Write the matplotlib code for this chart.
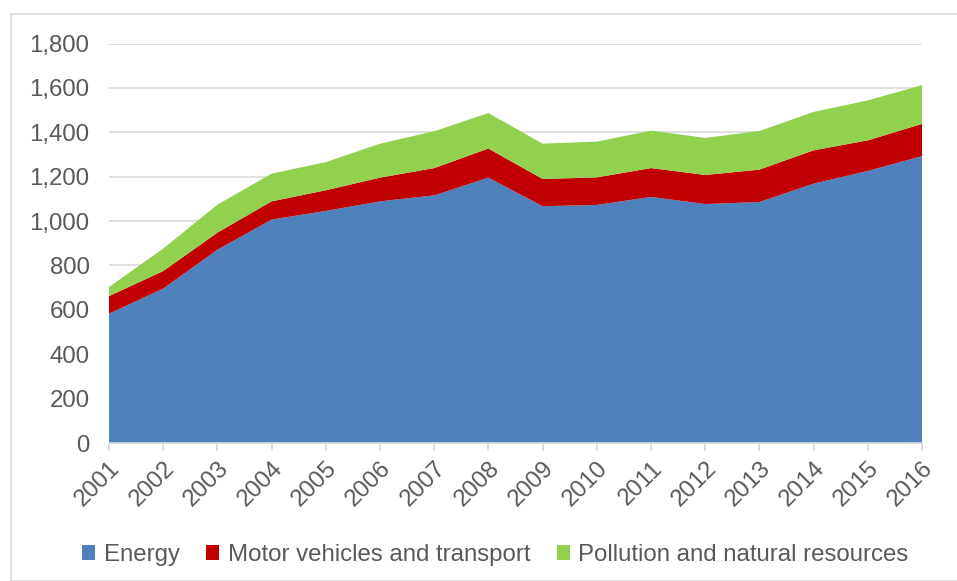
import matplotlib.pyplot as plt
from matplotlib.patches import Rectangle
from matplotlib.ticker import FuncFormatter

years = list(range(2001, 2017))
energy = [583, 696, 871, 1007, 1046, 1089, 1116, 1196, 1067, 1073, 1109, 1077, 1086, 1169, 1226, 1293]
motor = [79, 79, 77, 82, 93, 107, 123, 131, 123, 124, 130, 131, 146, 150, 138, 145]
pollution = [41, 101, 126, 125, 127, 153, 166, 160, 159, 161, 169, 167, 174, 173, 180, 175]
labels = ["Energy", "Motor vehicles and transport", "Pollution and natural resources"]
colors = ["#4f81bd", "#c00000", "#92d050"]

plt.rcParams['font.family'] = ['Liberation Sans', 'DejaVu Sans']
txt = "#595959"
grid = "#d9d9d9"
fs = 17.3

W, H = 957, 581
fig = plt.figure(figsize=(W / 100, H / 100), dpi=100)
fig.patches.append(Rectangle((11 / W, 0), 1.0, 1 - 14 / H, transform=fig.transFigure,
                             fill=False, edgecolor=grid, linewidth=1.2))

ax = fig.add_axes([109 / W, 138 / H, 813 / W, 399.4 / H])
ax.stackplot(years, energy, motor, pollution, colors=colors, labels=labels, linewidth=0)

ax.set_xlim(2001, 2016)
ax.set_ylim(0, 1800)
ax.set_yticks(range(0, 1801, 200))
ax.yaxis.set_major_formatter(FuncFormatter(lambda v, p: f"{int(v):,}"))
ax.set_xticks(years)
ax.set_xticklabels([str(y) for y in years], rotation=45, ha='right', rotation_mode='anchor')

ax.grid(axis='y', color=grid, linewidth=1.2)
ax.set_axisbelow(True)
for s in ['top', 'right', 'left']:
    ax.spines[s].set_visible(False)
ax.spines['bottom'].set_color(grid)
ax.spines['bottom'].set_linewidth(1.2)
ax.tick_params(axis='y', length=0, pad=14, labelsize=fs, labelcolor=txt)
ax.tick_params(axis='x', length=6, width=1.2, color=grid, pad=4, labelsize=fs, labelcolor=txt)

ax.legend(loc='center', bbox_to_anchor=(0.475, -0.281), ncol=3, frameon=False,
          fontsize=fs, labelcolor=txt, handlelength=0.55, handleheight=0.55,
          handletextpad=0.35, columnspacing=1.1)

fig.savefig("out.png", dpi=100)
